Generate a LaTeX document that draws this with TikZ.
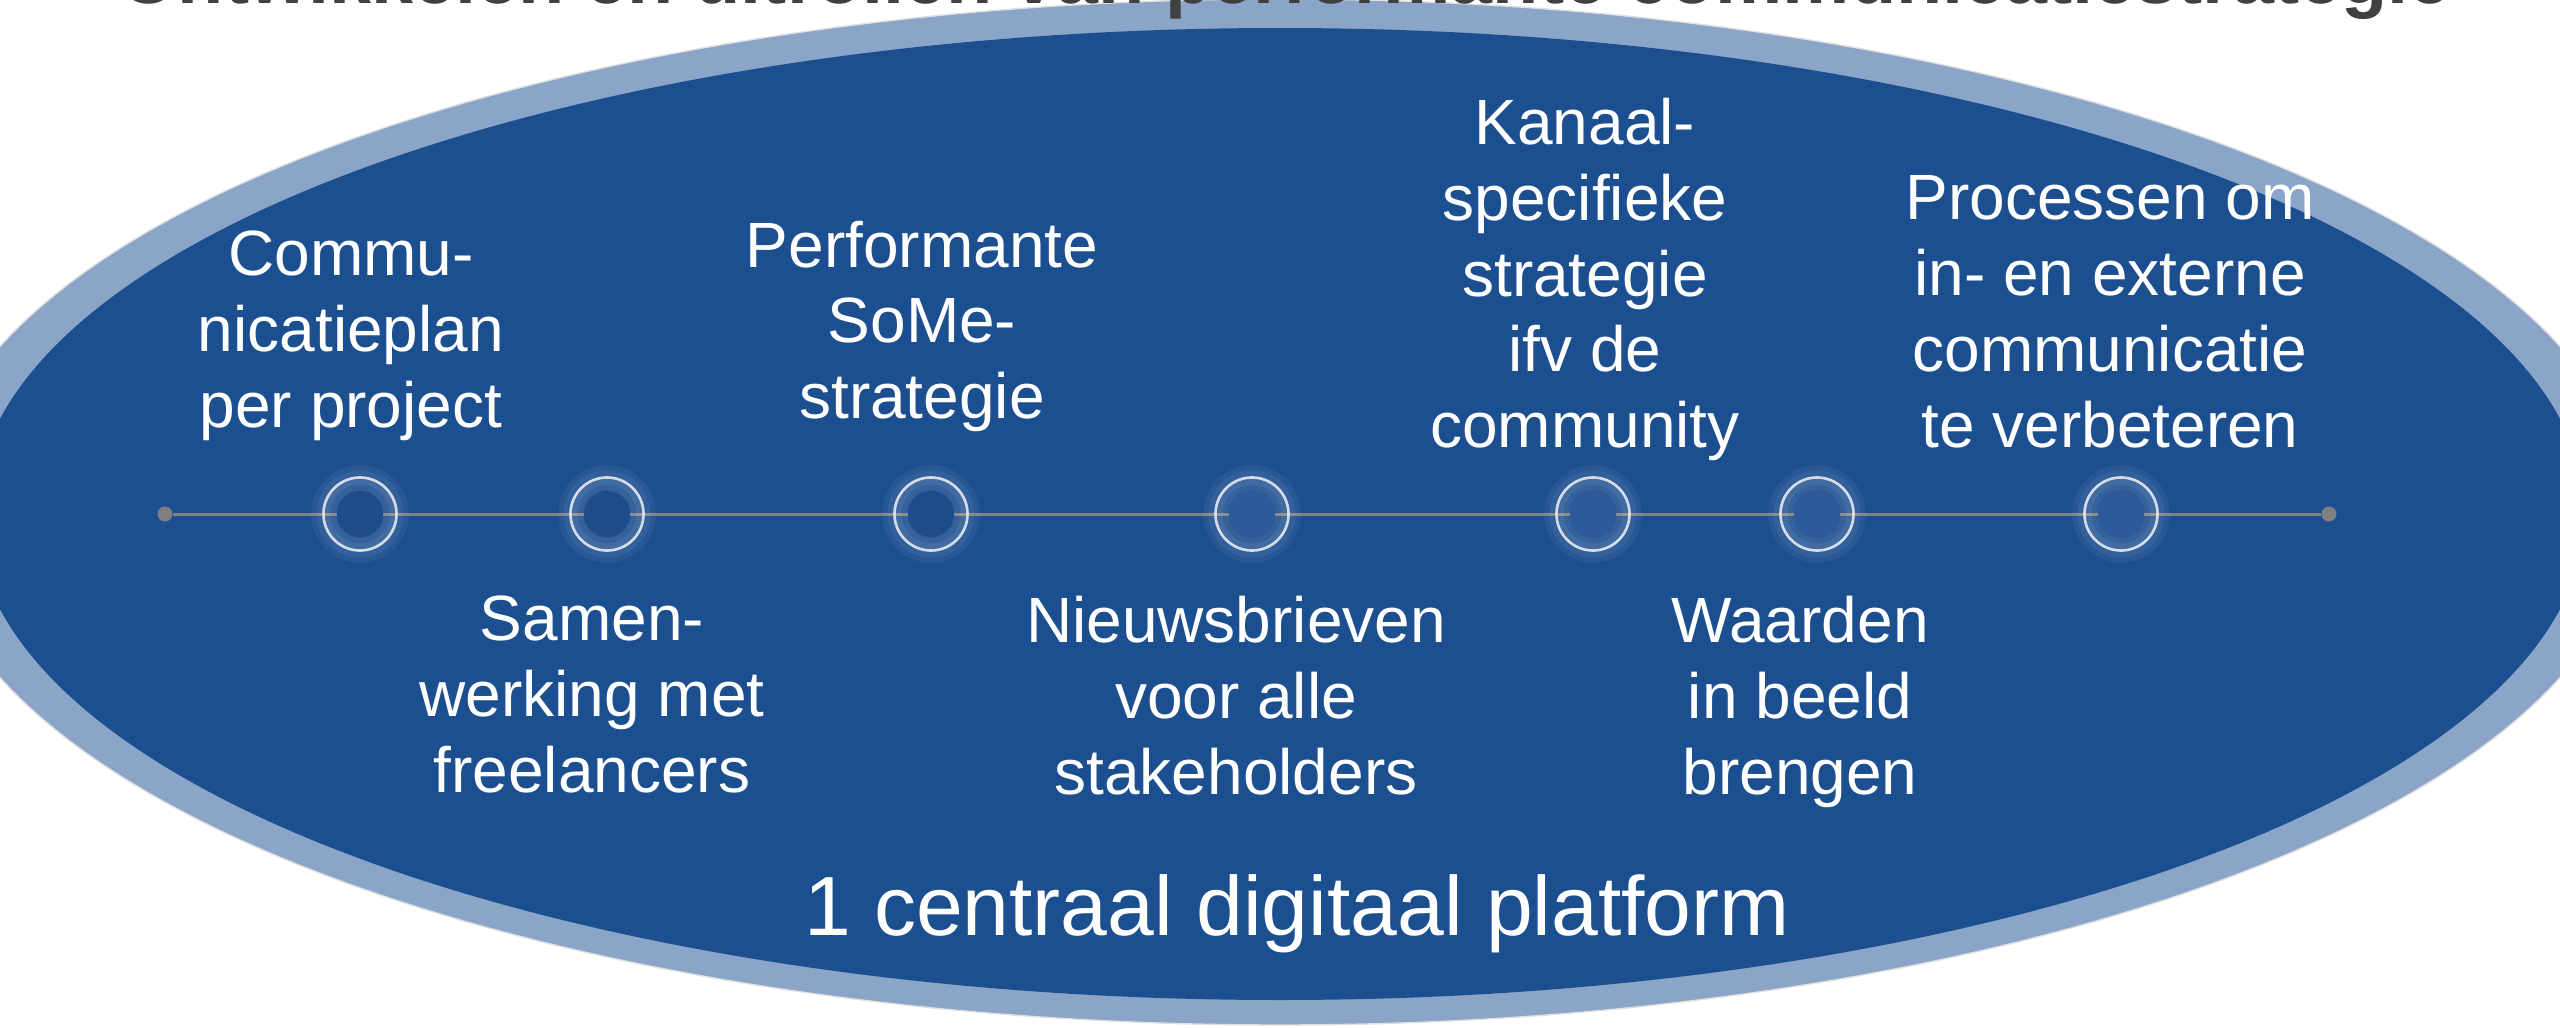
\documentclass[tikz,border=0pt]{standalone}
\usepackage{fontspec}
\setmainfont{Liberation Sans}
\definecolor{ovalblue}{HTML}{1C4F8F}
\definecolor{ovalrim}{HTML}{8AA5C7}
\definecolor{railgray}{HTML}{808080}
\definecolor{ringwhite}{HTML}{D5DCE8}
\definecolor{discdark}{HTML}{1D4C8A}
\definecolor{disclight}{HTML}{2D5A9C}
\definecolor{titlegray}{HTML}{404040}
\begin{document}
\begin{tikzpicture}[x=0.01cm,y=-0.01cm]
    \useasboundingbox (0,0) rectangle (2560,1027);
    % oval
    \fill[ovalrim, draw=black!12, line width=0.4pt] (1280,512) ellipse (1352 and 513);
    \fill[ovalblue] (1280,514) ellipse (1305 and 486);

    \node[anchor=base, text=titlegray, font=\fontsize{21.5}{26}\selectfont\bfseries] (title) at (1285,3) {Ontwikkelen en uitrollen van performante communicatiestrategie};

    % timeline
    \begin{scope}[every node/.style={circle,fill=railgray,inner sep=0,minimum size=0.15cm}]
        \node (ldot) at (165,514) {};
        \node (rdot) at (2329,514) {};
    \end{scope}
    \path [draw=railgray, line width=0.85pt] (ldot) -- (rdot);

    \begin{scope}[every node/.style={circle,inner sep=0}]
        \foreach \i/\x/\c in {1/360/discdark,2/607/discdark,3/931/discdark,4/1252/disclight,5/1593/disclight,6/1817/disclight,7/2121/disclight} {
            \node[minimum size=0.73cm, draw=ringwhite, line width=0.75pt, fill=white, fill opacity=0.07,
                  preaction={draw=white, draw opacity=0.05, line width=7pt},
                  preaction={draw=white, draw opacity=0.06, line width=4pt}] (m\i) at (\x,514) {};
            \node[minimum size=0.46cm, fill=\c] (d\i) at (m\i) {};
        }
    \end{scope}

    \begin{scope}[every node/.style={text=white,align=center,anchor=north,inner sep=0,font=\fontsize{18.2}{21.6}\selectfont}]
        \node (plan) at (351,230) {Commu-\\nicatieplan\\per project};
        \node (some) at (922,220) {Performante\\SoMe-\\strategie};
        \node (kanaal) at (1585,97) {Kanaal-\\specifieke\\strategie\\ifv de\\community};
        \node (proces) at (2110,175) {Processen om\\in- en externe\\communicatie\\te verbeteren};
        \node (freel) at (592,595) {Samen-\\werking met\\freelancers};
        \node (nieuws) at (1236,595) {Nieuwsbrieven\\voor alle\\stakeholders};
        \node (waard) at (1800,595) {Waarden\\in beeld\\brengen};
    \end{scope}

    \node[anchor=base, text=white, font=\fontsize{23.9}{28}\selectfont] (platform) at (1297,935) {1 centraal digitaal platform};
\end{tikzpicture}
\end{document}
